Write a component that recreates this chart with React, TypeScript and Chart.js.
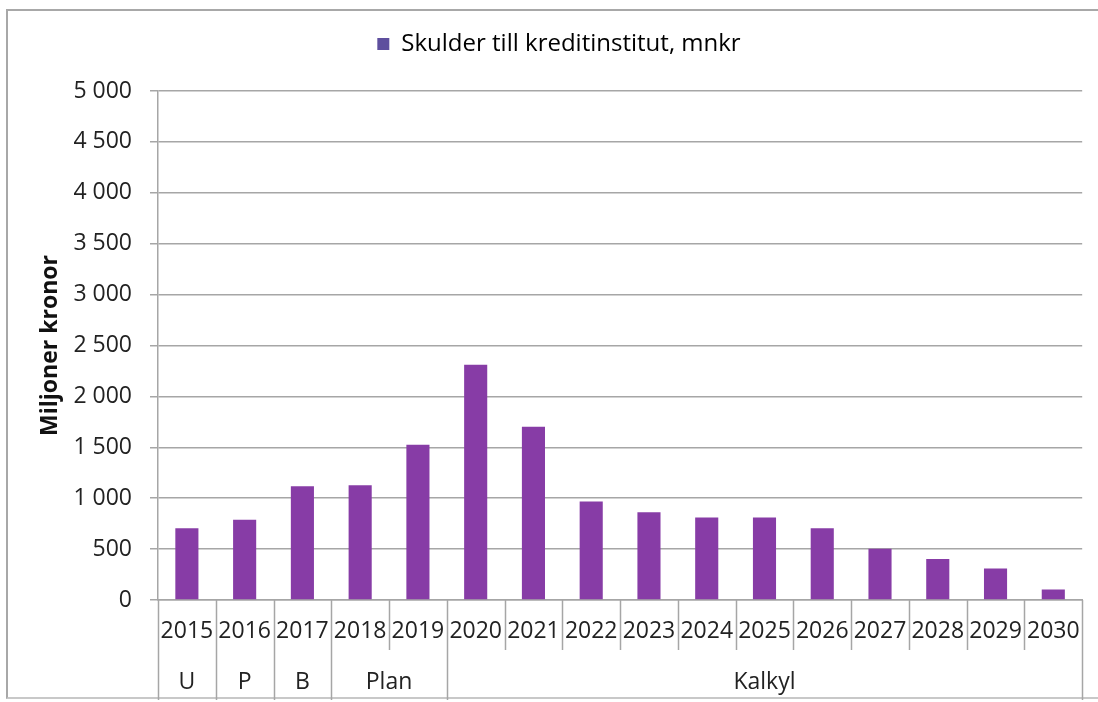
import React, { useEffect, useRef } from "react";
import { Chart, registerables } from "chart.js";

Chart.register(...registerables);

const years = ["2015", "2016", "2017", "2018", "2019", "2020", "2021", "2022", "2023", "2024", "2025", "2026", "2027", "2028", "2029", "2030"];
const debtValues = [705, 788, 1117, 1126, 1525, 2312, 1703, 968, 863, 810, 810, 705, 504, 402, 309, 102];
const groupLabels = ["U", "P", "B", "Plan", "Kalkyl"];
const groupSpans = [1, 1, 1, 2, 11];
const seriesLabel = "Skulder till kreditinstitut, mnkr";
const yTitle = "Miljoner kronor";

const FONT = "'Open Sans', 'Noto Sans', sans-serif";
const BAR = "#873ca6";
const LEGEND_BOX = "#5e4f9e";
const GRID = "#a6a6a6";
const TEXT = "#222222";

const legendSpacing = {
  id: "legendSpacing",
  beforeInit(chart: any) {
    const legend = chart.legend;
    if (!legend) return;
    const origFit = legend.fit;
    legend.fit = function () {
      origFit.call(this);
      this.height += 25;
    };
  },
};

const groupPlugin = {
  id: "groupAxis",
  afterDraw(chart: any) {
    const ctx = chart.ctx;
    const x = chart.scales.x;
    const top = chart.chartArea.bottom;
    const yearBottom = top + 50;
    const groupBottom = top + 100;
    const starts = new Set<number>();
    let acc = 0;
    groupSpans.forEach((s) => {
      starts.add(acc);
      acc += s;
    });
    starts.add(acc);
    ctx.save();
    ctx.strokeStyle = GRID;
    ctx.lineWidth = 1.5;
    for (let j = 0; j <= years.length; j++) {
      const px = Math.round(x.getPixelForValue(j - 0.5)) + 0.5;
      ctx.beginPath();
      ctx.moveTo(px, top);
      ctx.lineTo(px, starts.has(j) ? groupBottom : yearBottom);
      ctx.stroke();
    }
    ctx.fillStyle = TEXT;
    ctx.font = `23px ${FONT}`;
    ctx.textAlign = "center";
    ctx.textBaseline = "middle";
    let s0 = 0;
    groupLabels.forEach((g, i) => {
      const a = x.getPixelForValue(s0 - 0.5);
      const b = x.getPixelForValue(s0 + groupSpans[i] - 0.5);
      ctx.fillText(g, (a + b) / 2, top + 82);
      s0 += groupSpans[i];
    });
    ctx.restore();
  },
};

export default function App() {
  const ref = useRef<HTMLCanvasElement | null>(null);
  useEffect(() => {
    document.body.style.margin = "0";
    const chart = new Chart(ref.current as HTMLCanvasElement, {
      type: "bar",
      data: {
        labels: years,
        datasets: [
          {
            label: seriesLabel,
            data: debtValues,
            backgroundColor: BAR,
            barPercentage: 0.4,
            categoryPercentage: 1,
          },
        ],
      },
      options: {
        animation: false,
        responsive: false,
        devicePixelRatio: 1,
        layout: { padding: { left: 33, right: 13, top: 22, bottom: 0 } },
        plugins: {
          tooltip: { enabled: false },
          legend: {
            position: "top",
            labels: {
              boxWidth: 12,
              boxHeight: 12,
              color: TEXT,
              font: { family: FONT, size: 24 },
              padding: 10,
              generateLabels: (c: any) => [
                {
                  text: seriesLabel,
                  fillStyle: LEGEND_BOX,
                  strokeStyle: LEGEND_BOX,
                  lineWidth: 0,
                  hidden: false,
                  datasetIndex: 0,
                },
              ],
            },
          },
        },
        scales: {
          x: {
            type: "category",
            grid: { display: false, drawTicks: false },
            border: { display: true, color: GRID, width: 1.5 },
            ticks: {
              color: TEXT,
              font: { family: FONT, size: 23 },
              padding: 18,
              maxRotation: 0,
              autoSkip: false,
            },
            afterFit: (s: any) => {
              s.height = 102;
            },
          },
          y: {
            min: 0,
            max: 5000,
            grid: { color: GRID, lineWidth: 1.5, tickLength: 8, drawTicks: true },
            border: { display: true, color: GRID, width: 1.5 },
            ticks: {
              stepSize: 500,
              color: TEXT,
              padding: 18,
              font: { family: FONT, size: 23 },
              callback: (v: any) => String(v).replace(/\B(?=(\d{3})+(?!\d))/g, " "),
            },
            title: {
              display: true,
              text: yTitle,
              color: "#111",
              font: { family: FONT, size: 23, weight: "bold" },
            },
            afterFit: (s: any) => {
              s.width = 125;
            },
          },
        },
      },
      plugins: [legendSpacing, groupPlugin],
    } as any);
    return () => chart.destroy();
  }, []);
  return (
    <div style={{ position: "fixed", left: 0, top: 0, width: 1098, height: 702, background: "#fff" }}>
      <div
        style={{
          position: "absolute",
          left: 6,
          top: 9,
          width: 1100,
          height: 690,
          borderLeft: "2px solid #a8a8a8",
          borderTop: "2px solid #a8a8a8",
          borderBottom: "2px solid #c8c8c8",
          boxSizing: "border-box",
        }}
      />
      <canvas ref={ref} width={1098} height={702} style={{ position: "absolute", left: 0, top: 0 }} />
    </div>
  );
}
